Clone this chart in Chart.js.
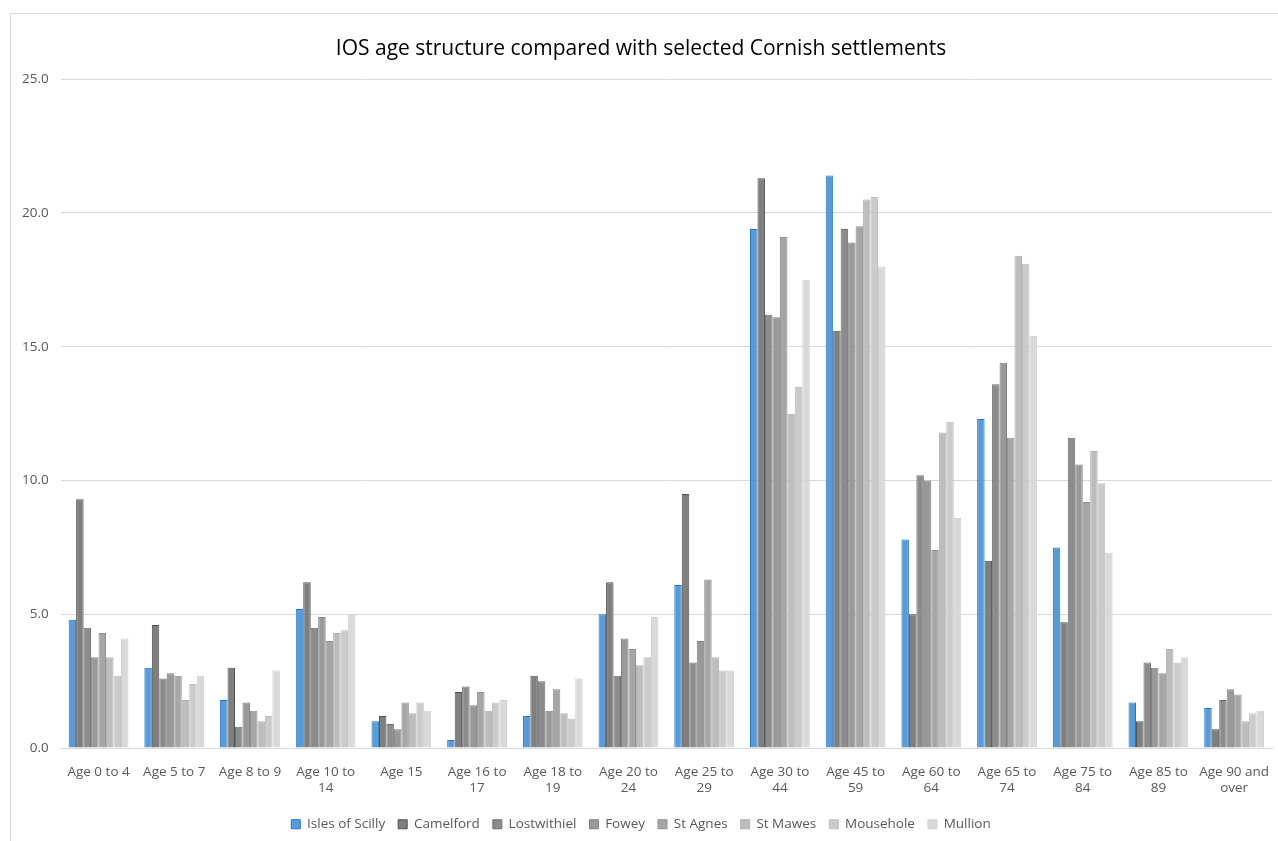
<!DOCTYPE html>
<html>
<head>
<meta charset="utf-8">
<title>IOS age structure</title>
<script src="https://cdn.jsdelivr.net/npm/chart.js@4/dist/chart.umd.min.js"></script>
<style>
  html, body { margin: 0; padding: 0; background: #fff; }
  #wrap { width: 1278px; height: 841px; position: relative; }
</style>
</head>
<body>
<div id="wrap"><canvas id="ageChart" width="1278" height="841"></canvas></div>
<script>
// age bands (tick labels, wrapped like the original)
const ageBands = [
    'Age 0 to 4', 'Age 5 to 7', 'Age 8 to 9', ['Age 10 to', '14'], 'Age 15',
    ['Age 16 to', '17'], ['Age 18 to', '19'], ['Age 20 to', '24'], ['Age 25 to', '29'],
    ['Age 30 to', '44'], ['Age 45 to', '59'], ['Age 60 to', '64'], ['Age 65 to', '74'],
    ['Age 75 to', '84'], ['Age 85 to', '89'], ['Age 90 and', 'over']
];

// % of population per band
const islesOfScilly = [4.8, 3.0, 1.8, 5.2, 1.0, 0.3, 1.2, 5.0, 6.1, 19.4, 21.4, 7.8, 12.3, 7.5, 1.7, 1.5];
const camelford     = [9.3, 4.6, 3.0, 6.2, 1.2, 2.1, 2.7, 6.2, 9.5, 21.3, 15.6, 5.0, 7.0, 4.7, 1.0, 0.7];
const lostwithiel   = [4.5, 2.6, 0.8, 4.5, 0.9, 2.3, 2.5, 2.7, 3.2, 16.2, 19.4, 10.2, 13.6, 11.6, 3.2, 1.8];
const fowey         = [3.4, 2.8, 1.7, 4.9, 0.7, 1.6, 1.4, 4.1, 4.0, 16.1, 18.9, 10.0, 14.4, 10.6, 3.0, 2.2];
const stAgnes       = [4.3, 2.7, 1.4, 4.0, 1.7, 2.1, 2.2, 3.7, 6.3, 19.1, 19.5, 7.4, 11.6, 9.2, 2.8, 2.0];
const stMawes       = [3.4, 1.8, 1.0, 4.3, 1.3, 1.4, 1.3, 3.1, 3.4, 12.5, 20.5, 11.8, 18.4, 11.1, 3.7, 1.0];
const mousehole     = [2.7, 2.4, 1.2, 4.4, 1.7, 1.7, 1.1, 3.4, 2.9, 13.5, 20.6, 12.2, 18.1, 9.9, 3.2, 1.3];
const mullion       = [4.1, 2.7, 2.9, 5.0, 1.4, 1.8, 2.6, 4.9, 2.9, 17.5, 18.0, 8.6, 15.4, 7.3, 3.4, 1.4];

const yTicks = [0, 5, 10, 15, 20, 25];

const textGrey = '#595959';
const font = '"Open Sans", sans-serif';

// light grey frame around the whole chart, like the Excel chart area
const framePlugin = {
    id: 'frame',
    beforeDraw(chart) {
        const c = chart.ctx;
        c.save();
        c.fillStyle = '#fff';
        c.fillRect(0, 0, chart.width, chart.height);
        c.strokeStyle = '#d9d9d9';
        c.lineWidth = 1;
        c.strokeRect(10.5, 13.5, chart.width + 20, chart.height + 20);
        c.restore();
    }
};

function series(label, data, fill, edge) {
    return {
        label: label,
        data: data,
        backgroundColor: fill,
        borderColor: edge,
        borderWidth: 1,
        categoryPercentage: 0.79,
        barPercentage: 1.0
    };
}

const ctx = document.getElementById('ageChart').getContext('2d');
new Chart(ctx, {
    type: 'bar',
    data: {
        labels: ageBands,
        datasets: [
            series('Isles of Scilly', islesOfScilly, '#5b9bd5', '#1f78c8'),
            series('Camelford', camelford, '#7f7f7f', '#505050'),
            series('Lostwithiel', lostwithiel, '#8c8c8c', '#6e6e6e'),
            series('Fowey', fowey, '#999999', '#808080'),
            series('St Agnes', stAgnes, '#a6a6a6', '#909090'),
            series('St Mawes', stMawes, '#bdbdbd', '#b0b0b0'),
            series('Mousehole', mousehole, '#cbcbcb', '#c0c0c0'),
            series('Mullion', mullion, '#d9d9d9', '#d0d0d0')
        ]
    },
    options: {
        responsive: false,
        animation: false,
        devicePixelRatio: 1,
        layout: {
            padding: { left: 10, right: 6, top: 22, bottom: 0 }
        },
        plugins: {
            title: {
                display: true,
                text: 'IOS age structure compared with selected Cornish settlements',
                color: '#000',
                font: { family: font, size: 21, weight: 'normal' },
                padding: { top: 14, bottom: 18 }
            },
            legend: {
                position: 'bottom',
                labels: {
                    color: textGrey,
                    boxWidth: 9,
                    boxHeight: 9,
                    padding: 13,
                    font: { family: font, size: 13.5 }
                }
            },
            tooltip: { enabled: false }
        },
        scales: {
            x: {
                grid: { display: false },
                border: { color: '#d9d9d9' },
                ticks: {
                    color: textGrey,
                    maxRotation: 0,
                    autoSkip: false,
                    padding: 8,
                    font: { family: font, size: 13.5 }
                }
            },
            y: {
                min: 0,
                max: 25,
                afterBuildTicks(axis) {
                    axis.ticks = yTicks.map(v => ({ value: v }));
                },
                grid: { color: '#d9d9d9', drawTicks: false },
                border: { display: false },
                ticks: {
                    color: textGrey,
                    padding: 12,
                    font: { family: font, size: 13.5 },
                    callback: v => v.toFixed(1)
                }
            }
        }
    },
    plugins: [framePlugin]
});
</script>
</body>
</html>
